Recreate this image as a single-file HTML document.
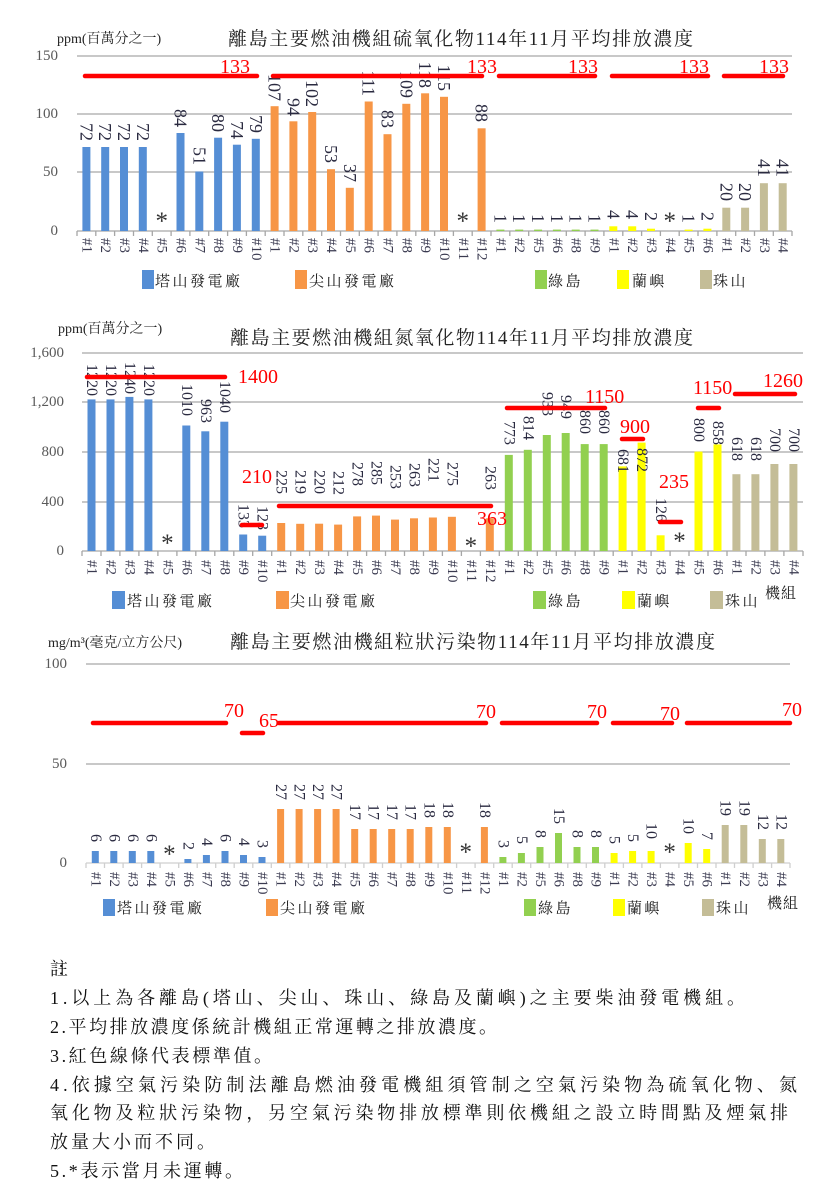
<!DOCTYPE html>
<html><head><meta charset="utf-8">
<style>
body{margin:0;background:#fff;}
svg{display:block;}
text{font-family:"Liberation Serif","Noto Serif CJK SC","Noto Sans CJK TC",serif;}
.v{font-size:18px;fill:#2a2a40;text-anchor:end;dominant-baseline:central;}
.v2{font-size:16px;fill:#2a2a40;text-anchor:end;dominant-baseline:central;}
.v3{font-size:16px;fill:#2a2a40;text-anchor:end;dominant-baseline:central;}
.t{font-size:15px;fill:#3a3a50;dominant-baseline:central;}
.y{font-size:15px;fill:#595959;text-anchor:end;dominant-baseline:central;}
.r{font-size:20px;fill:#ff0000;}
.a{font-size:25px;fill:#333;text-anchor:middle;}
.lg{font-size:15px;fill:#222;letter-spacing:2.5px;}
.ttl{font-size:19px;fill:#222;}
.u{font-size:14px;fill:#222;}
.n{font-size:18px;fill:#111;}
.g{stroke:#a6a6a6;stroke-width:1.3;}
.rl{stroke:#ff0000;stroke-width:4.5;stroke-linecap:round;}
.B{fill:#558ed5}.O{fill:#f79646}.G{fill:#92d050}.Y{fill:#ffff00}.T{fill:#c4bd97}
</style></head><body>
<svg width="823" height="1204" viewBox="0 0 823 1204" xmlns="http://www.w3.org/2000/svg">
<rect width="823" height="1204" fill="#fff"/>

<!-- ================= CHART 1 ================= -->
<text class="u" x="57" y="43">ppm(百萬分之一)</text>
<text class="ttl" x="228" y="45" textLength="465" lengthAdjust="spacing">離島主要燃油機組硫氧化物114年11月平均排放濃度</text>
<line class="g" x1="77" y1="56" x2="792" y2="56"/>
<line class="g" x1="77" y1="114" x2="792" y2="114"/>
<line class="g" x1="77" y1="172" x2="792" y2="172"/>
<line class="g" x1="77" y1="231" x2="792" y2="231"/>
<path class="g" fill="none" d="M77.0 231v5M95.8 231v5M114.6 231v5M133.5 231v5M152.3 231v5M171.1 231v5M189.9 231v5M208.7 231v5M227.6 231v5M246.4 231v5M265.2 231v5M284.0 231v5M302.8 231v5M321.7 231v5M340.5 231v5M359.3 231v5M378.1 231v5M396.9 231v5M415.8 231v5M434.6 231v5M453.4 231v5M472.2 231v5M491.0 231v5M509.8 231v5M528.7 231v5M547.5 231v5M566.3 231v5M585.1 231v5M603.9 231v5M622.8 231v5M641.6 231v5M660.4 231v5M679.2 231v5M698.0 231v5M716.9 231v5M735.7 231v5M754.5 231v5M773.3 231v5M792 231v5"/>
<text class="y" x="58" y="56">150</text>
<text class="y" x="58" y="114">100</text>
<text class="y" x="58" y="172">50</text>
<text class="y" x="58" y="231">0</text>

<rect class="B" x="82.4" y="147" width="8" height="84"/>
<rect class="B" x="101.2" y="147" width="8" height="84"/>
<rect class="B" x="120" y="147" width="8" height="84"/>
<rect class="B" x="138.8" y="147" width="8" height="84"/>
<rect class="B" x="176.5" y="133" width="8" height="98"/>
<rect class="B" x="195.3" y="171.5" width="8" height="59.5"/>
<rect class="B" x="214.1" y="137.7" width="8" height="93.3"/>
<rect class="B" x="232.9" y="144.7" width="8" height="86.3"/>
<rect class="B" x="251.8" y="138.8" width="8" height="92.2"/>
<rect class="O" x="270.6" y="106.2" width="8" height="124.8"/>
<rect class="O" x="289.4" y="121.3" width="8" height="109.7"/>
<rect class="O" x="308.2" y="112" width="8" height="119"/>
<rect class="O" x="327" y="169.2" width="8" height="61.8"/>
<rect class="O" x="345.8" y="187.8" width="8" height="43.2"/>
<rect class="O" x="364.7" y="101.5" width="8" height="129.5"/>
<rect class="O" x="383.5" y="134.2" width="8" height="96.8"/>
<rect class="O" x="402.3" y="103.8" width="8" height="127.2"/>
<rect class="O" x="421.1" y="93.3" width="8" height="137.7"/>
<rect class="O" x="440" y="96.8" width="8" height="134.2"/>
<rect class="O" x="477.6" y="128.3" width="8" height="102.7"/>
<rect class="G" x="496.4" y="229.6" width="8" height="1.4"/>
<rect class="G" x="515.2" y="229.6" width="8" height="1.4"/>
<rect class="G" x="534.1" y="229.6" width="8" height="1.4"/>
<rect class="G" x="552.9" y="229.6" width="8" height="1.4"/>
<rect class="G" x="571.7" y="229.6" width="8" height="1.4"/>
<rect class="G" x="590.5" y="229.6" width="8" height="1.4"/>
<rect class="Y" x="609.3" y="226.3" width="8" height="4.7"/>
<rect class="Y" x="628.2" y="226.3" width="8" height="4.7"/>
<rect class="Y" x="647" y="228.7" width="8" height="2.3"/>
<rect class="Y" x="684.6" y="229.6" width="8" height="1.4"/>
<rect class="Y" x="703.4" y="228.7" width="8" height="2.3"/>
<rect class="T" x="722.3" y="207.7" width="8" height="23.3"/>
<rect class="T" x="741.1" y="207.7" width="8" height="23.3"/>
<rect class="T" x="759.9" y="183.2" width="8" height="47.8"/>
<rect class="T" x="778.7" y="183.2" width="8" height="47.8"/>

<text class="v" transform="translate(86.4,141) rotate(90)">72</text>
<text class="v" transform="translate(105.2,141) rotate(90)">72</text>
<text class="v" transform="translate(124,141) rotate(90)">72</text>
<text class="v" transform="translate(142.8,141) rotate(90)">72</text>
<text class="v" transform="translate(180.5,127) rotate(90)">84</text>
<text class="v" transform="translate(199.3,165) rotate(90)">51</text>
<text class="v" transform="translate(218.1,132) rotate(90)">80</text>
<text class="v" transform="translate(236.9,139) rotate(90)">74</text>
<text class="v" transform="translate(255.8,133) rotate(90)">79</text>
<text class="v" transform="translate(274.6,101) rotate(90)">107</text>
<text class="v" transform="translate(293.4,116) rotate(90)">94</text>
<text class="v" transform="translate(312.2,107) rotate(90)">102</text>
<text class="v" transform="translate(331,163) rotate(90)">53</text>
<text class="v" transform="translate(349.8,182) rotate(90)">37</text>
<text class="v" transform="translate(368.7,96) rotate(90)">111</text>
<text class="v" transform="translate(387.5,128) rotate(90)">83</text>
<text class="v" transform="translate(406.3,98) rotate(90)">109</text>
<text class="v" transform="translate(425.1,88) rotate(90)">118</text>
<text class="v" transform="translate(444,91) rotate(90)">115</text>
<text class="v" transform="translate(481.6,122) rotate(90)">88</text>
<text class="v" transform="translate(500.4,223) rotate(90)">1</text>
<text class="v" transform="translate(519.2,223) rotate(90)">1</text>
<text class="v" transform="translate(538.1,223) rotate(90)">1</text>
<text class="v" transform="translate(556.9,223) rotate(90)">1</text>
<text class="v" transform="translate(575.7,223) rotate(90)">1</text>
<text class="v" transform="translate(594.5,223) rotate(90)">1</text>
<text class="v" transform="translate(613.3,219) rotate(90)">4</text>
<text class="v" transform="translate(632.2,219) rotate(90)">4</text>
<text class="v" transform="translate(651,221) rotate(90)">2</text>
<text class="v" transform="translate(688.6,223) rotate(90)">1</text>
<text class="v" transform="translate(707.4,221) rotate(90)">2</text>
<text class="v" transform="translate(726.3,201) rotate(90)">20</text>
<text class="v" transform="translate(745.1,201) rotate(90)">20</text>
<text class="v" transform="translate(763.9,177) rotate(90)">41</text>
<text class="v" transform="translate(782.7,177) rotate(90)">41</text>
<text class="a" x="161.7" y="229">*</text>
<text class="a" x="462.8" y="229">*</text>
<text class="a" x="669.8" y="229">*</text>

<line class="rl" x1="85" y1="76" x2="257" y2="76"/>
<line class="rl" x1="273" y1="76" x2="482" y2="76"/>
<line class="rl" x1="499" y1="76" x2="595" y2="76"/>
<line class="rl" x1="612" y1="76" x2="708" y2="76"/>
<line class="rl" x1="724" y1="76" x2="783" y2="76"/>
<text class="r" x="220" y="73">133</text>
<text class="r" x="467" y="73">133</text>
<text class="r" x="568" y="73">133</text>
<text class="r" x="679" y="73">133</text>
<text class="r" x="759" y="73">133</text>

<text class="t" transform="translate(86.4,238) rotate(90)">#1</text>
<text class="t" transform="translate(105.2,238) rotate(90)">#2</text>
<text class="t" transform="translate(124,238) rotate(90)">#3</text>
<text class="t" transform="translate(142.8,238) rotate(90)">#4</text>
<text class="t" transform="translate(161.7,238) rotate(90)">#5</text>
<text class="t" transform="translate(180.5,238) rotate(90)">#6</text>
<text class="t" transform="translate(199.3,238) rotate(90)">#7</text>
<text class="t" transform="translate(218.1,238) rotate(90)">#8</text>
<text class="t" transform="translate(236.9,238) rotate(90)">#9</text>
<text class="t" transform="translate(255.8,238) rotate(90)">#10</text>
<text class="t" transform="translate(274.6,238) rotate(90)">#1</text>
<text class="t" transform="translate(293.4,238) rotate(90)">#2</text>
<text class="t" transform="translate(312.2,238) rotate(90)">#3</text>
<text class="t" transform="translate(331,238) rotate(90)">#4</text>
<text class="t" transform="translate(349.8,238) rotate(90)">#5</text>
<text class="t" transform="translate(368.7,238) rotate(90)">#6</text>
<text class="t" transform="translate(387.5,238) rotate(90)">#7</text>
<text class="t" transform="translate(406.3,238) rotate(90)">#8</text>
<text class="t" transform="translate(425.1,238) rotate(90)">#9</text>
<text class="t" transform="translate(444,238) rotate(90)">#10</text>
<text class="t" transform="translate(462.8,238) rotate(90)">#11</text>
<text class="t" transform="translate(481.6,238) rotate(90)">#12</text>
<text class="t" transform="translate(500.4,238) rotate(90)">#1</text>
<text class="t" transform="translate(519.2,238) rotate(90)">#2</text>
<text class="t" transform="translate(538.1,238) rotate(90)">#5</text>
<text class="t" transform="translate(556.9,238) rotate(90)">#6</text>
<text class="t" transform="translate(575.7,238) rotate(90)">#8</text>
<text class="t" transform="translate(594.5,238) rotate(90)">#9</text>
<text class="t" transform="translate(613.3,238) rotate(90)">#1</text>
<text class="t" transform="translate(632.2,238) rotate(90)">#2</text>
<text class="t" transform="translate(651,238) rotate(90)">#3</text>
<text class="t" transform="translate(669.8,238) rotate(90)">#4</text>
<text class="t" transform="translate(688.6,238) rotate(90)">#5</text>
<text class="t" transform="translate(707.4,238) rotate(90)">#6</text>
<text class="t" transform="translate(726.3,238) rotate(90)">#1</text>
<text class="t" transform="translate(745.1,238) rotate(90)">#2</text>
<text class="t" transform="translate(763.9,238) rotate(90)">#3</text>
<text class="t" transform="translate(782.7,238) rotate(90)">#4</text>

<rect class="B" x="142" y="270" width="12" height="19"/><text class="lg" x="155" y="286">塔山發電廠</text>
<rect class="O" x="295" y="270" width="12" height="19"/><text class="lg" x="309" y="286">尖山發電廠</text>
<rect class="G" x="535" y="270" width="12" height="19"/><text class="lg" x="548" y="286">綠島</text>
<rect class="Y" x="617" y="270" width="12" height="19"/><text class="lg" x="632" y="286">蘭嶼</text>
<rect class="T" x="700" y="270" width="12" height="19"/><text class="lg" x="713" y="286">珠山</text>

<!-- ================= CHART 2 ================= -->
<text class="u" x="58" y="333">ppm(百萬分之一)</text>
<text class="ttl" x="230" y="344" textLength="463" lengthAdjust="spacing">離島主要燃油機組氮氧化物114年11月平均排放濃度</text>
<line class="g" x1="82" y1="353" x2="803" y2="353"/>
<line class="g" x1="82" y1="402" x2="803" y2="402"/>
<line class="g" x1="82" y1="452" x2="803" y2="452"/>
<line class="g" x1="82" y1="502" x2="803" y2="502"/>
<line class="g" x1="82" y1="551" x2="803" y2="551"/>
<path class="g" fill="none" d="M82 551v5M101.0 551v5M119.9 551v5M138.9 551v5M157.9 551v5M176.9 551v5M195.8 551v5M214.8 551v5M233.8 551v5M252.7 551v5M271.7 551v5M290.7 551v5M309.6 551v5M328.6 551v5M347.6 551v5M366.6 551v5M385.5 551v5M404.5 551v5M423.5 551v5M442.4 551v5M461.4 551v5M480.4 551v5M499.3 551v5M518.3 551v5M537.3 551v5M556.3 551v5M575.2 551v5M594.2 551v5M613.2 551v5M632.1 551v5M651.1 551v5M670.1 551v5M689.0 551v5M708.0 551v5M727.0 551v5M746.0 551v5M764.9 551v5M783.9 551v5M803 551v5"/>
<text class="y" x="64" y="353">1,600</text>
<text class="y" x="64" y="402">1,200</text>
<text class="y" x="64" y="452">800</text>
<text class="y" x="64" y="502">400</text>
<text class="y" x="64" y="551">0</text>

<rect class="B" x="87.5" y="399.4" width="8" height="151.6"/>
<rect class="B" x="106.5" y="399.4" width="8" height="151.6"/>
<rect class="B" x="125.4" y="396.9" width="8" height="154.1"/>
<rect class="B" x="144.4" y="399.4" width="8" height="151.6"/>
<rect class="B" x="182.3" y="425.5" width="8" height="125.5"/>
<rect class="B" x="201.3" y="431.3" width="8" height="119.7"/>
<rect class="B" x="220.3" y="421.7" width="8" height="129.3"/>
<rect class="B" x="239.2" y="534.5" width="8" height="16.5"/>
<rect class="B" x="258.2" y="535.7" width="8" height="15.3"/>
<rect class="O" x="277.2" y="523" width="8" height="28"/>
<rect class="O" x="296.2" y="523.8" width="8" height="27.2"/>
<rect class="O" x="315.1" y="523.7" width="8" height="27.3"/>
<rect class="O" x="334.1" y="524.6" width="8" height="26.4"/>
<rect class="O" x="353.1" y="516.4" width="8" height="34.6"/>
<rect class="O" x="372" y="515.6" width="8" height="35.4"/>
<rect class="O" x="391" y="519.6" width="8" height="31.4"/>
<rect class="O" x="410" y="518.3" width="8" height="32.7"/>
<rect class="O" x="428.9" y="517.5" width="8" height="33.5"/>
<rect class="O" x="447.9" y="516.8" width="8" height="34.2"/>
<rect class="O" x="485.8" y="518.3" width="8" height="32.7"/>
<rect class="G" x="504.8" y="454.9" width="8" height="96.1"/>
<rect class="G" x="523.8" y="449.8" width="8" height="101.2"/>
<rect class="G" x="542.8" y="435" width="8" height="116"/>
<rect class="G" x="561.7" y="433" width="8" height="118"/>
<rect class="G" x="580.7" y="444.1" width="8" height="106.9"/>
<rect class="G" x="599.7" y="444.1" width="8" height="106.9"/>
<rect class="Y" x="618.6" y="466.4" width="8" height="84.6"/>
<rect class="Y" x="637.6" y="442.6" width="8" height="108.4"/>
<rect class="Y" x="656.6" y="535.3" width="8" height="15.7"/>
<rect class="Y" x="694.5" y="451.6" width="8" height="99.4"/>
<rect class="Y" x="713.5" y="444.4" width="8" height="106.6"/>
<rect class="T" x="732.4" y="474.2" width="8" height="76.8"/>
<rect class="T" x="751.4" y="474.2" width="8" height="76.8"/>
<rect class="T" x="770.4" y="464" width="8" height="87"/>
<rect class="T" x="789.4" y="464" width="8" height="87"/>

<text class="v2" transform="translate(91.5,396) rotate(90)">1220</text>
<text class="v2" transform="translate(110.5,396) rotate(90)">1220</text>
<text class="v2" transform="translate(129.4,394) rotate(90)">1240</text>
<text class="v2" transform="translate(148.4,396) rotate(90)">1220</text>
<text class="v2" transform="translate(186.3,416) rotate(90)">1010</text>
<text class="v2" transform="translate(205.3,423) rotate(90)">963</text>
<text class="v2" transform="translate(224.3,413) rotate(90)">1040</text>
<text class="v2" transform="translate(243.2,528) rotate(90)">133</text>
<text class="v2" transform="translate(262.2,530) rotate(90)">123</text>
<text class="v2" transform="translate(281.2,494) rotate(90)">225</text>
<text class="v2" transform="translate(300.2,494) rotate(90)">219</text>
<text class="v2" transform="translate(319.1,494) rotate(90)">220</text>
<text class="v2" transform="translate(338.1,495) rotate(90)">212</text>
<text class="v2" transform="translate(357.1,486) rotate(90)">278</text>
<text class="v2" transform="translate(376,485) rotate(90)">285</text>
<text class="v2" transform="translate(395,489) rotate(90)">253</text>
<text class="v2" transform="translate(414,487) rotate(90)">263</text>
<text class="v2" transform="translate(432.9,482) rotate(90)">221</text>
<text class="v2" transform="translate(451.9,486) rotate(90)">275</text>
<text class="v2" transform="translate(489.8,490) rotate(90)">263</text>
<text class="v2" transform="translate(508.8,445) rotate(90)">773</text>
<text class="v2" transform="translate(527.8,440) rotate(90)">814</text>
<text class="v2" transform="translate(546.8,416) rotate(90)">933</text>
<text class="v2" transform="translate(565.7,419) rotate(90)">949</text>
<text class="v2" transform="translate(584.7,434) rotate(90)">860</text>
<text class="v2" transform="translate(603.7,434) rotate(90)">860</text>
<text class="v2" transform="translate(622.6,473) rotate(90)">681</text>
<text class="v2" transform="translate(641.6,472) rotate(90)">872</text>
<text class="v2" transform="translate(660.6,522) rotate(90)">126</text>
<text class="v2" transform="translate(698.5,442) rotate(90)">800</text>
<text class="v2" transform="translate(717.5,445) rotate(90)">858</text>
<text class="v2" transform="translate(736.4,461) rotate(90)">618</text>
<text class="v2" transform="translate(755.4,461) rotate(90)">618</text>
<text class="v2" transform="translate(774.4,452) rotate(90)">700</text>
<text class="v2" transform="translate(793.4,452) rotate(90)">700</text>
<text class="a" x="167.4" y="551">*</text>
<text class="a" x="470.9" y="554">*</text>
<text class="a" x="679.5" y="549">*</text>

<line class="rl" x1="87" y1="377" x2="225" y2="377"/>
<line class="rl" x1="242" y1="525" x2="262" y2="525"/>
<line class="rl" x1="279" y1="506" x2="491" y2="506"/>
<line class="rl" x1="507" y1="408" x2="605" y2="408"/>
<line class="rl" x1="622" y1="439" x2="643" y2="439"/>
<line class="rl" x1="660" y1="522" x2="681" y2="522"/>
<line class="rl" x1="698" y1="408" x2="719" y2="408"/>
<line class="rl" x1="735" y1="394" x2="795" y2="394"/>
<text class="r" x="238" y="383">1400</text>
<text class="r" x="242" y="483">210</text>
<text class="r" x="477" y="525">363</text>
<text class="r" x="585" y="403">1150</text>
<text class="r" x="620" y="433">900</text>
<text class="r" x="659" y="488">235</text>
<text class="r" x="693" y="394">1150</text>
<text class="r" x="763" y="387">1260</text>

<text class="t" transform="translate(91.5,560) rotate(90)">#1</text>
<text class="t" transform="translate(110.5,560) rotate(90)">#2</text>
<text class="t" transform="translate(129.4,560) rotate(90)">#3</text>
<text class="t" transform="translate(148.4,560) rotate(90)">#4</text>
<text class="t" transform="translate(167.4,560) rotate(90)">#5</text>
<text class="t" transform="translate(186.3,560) rotate(90)">#6</text>
<text class="t" transform="translate(205.3,560) rotate(90)">#7</text>
<text class="t" transform="translate(224.3,560) rotate(90)">#8</text>
<text class="t" transform="translate(243.2,560) rotate(90)">#9</text>
<text class="t" transform="translate(262.2,560) rotate(90)">#10</text>
<text class="t" transform="translate(281.2,560) rotate(90)">#1</text>
<text class="t" transform="translate(300.2,560) rotate(90)">#2</text>
<text class="t" transform="translate(319.1,560) rotate(90)">#3</text>
<text class="t" transform="translate(338.1,560) rotate(90)">#4</text>
<text class="t" transform="translate(357.1,560) rotate(90)">#5</text>
<text class="t" transform="translate(376,560) rotate(90)">#6</text>
<text class="t" transform="translate(395,560) rotate(90)">#7</text>
<text class="t" transform="translate(414,560) rotate(90)">#8</text>
<text class="t" transform="translate(432.9,560) rotate(90)">#9</text>
<text class="t" transform="translate(451.9,560) rotate(90)">#10</text>
<text class="t" transform="translate(470.9,560) rotate(90)">#11</text>
<text class="t" transform="translate(489.8,560) rotate(90)">#12</text>
<text class="t" transform="translate(508.8,560) rotate(90)">#1</text>
<text class="t" transform="translate(527.8,560) rotate(90)">#2</text>
<text class="t" transform="translate(546.8,560) rotate(90)">#5</text>
<text class="t" transform="translate(565.7,560) rotate(90)">#6</text>
<text class="t" transform="translate(584.7,560) rotate(90)">#8</text>
<text class="t" transform="translate(603.7,560) rotate(90)">#9</text>
<text class="t" transform="translate(622.6,560) rotate(90)">#1</text>
<text class="t" transform="translate(641.6,560) rotate(90)">#2</text>
<text class="t" transform="translate(660.6,560) rotate(90)">#3</text>
<text class="t" transform="translate(679.5,560) rotate(90)">#4</text>
<text class="t" transform="translate(698.5,560) rotate(90)">#5</text>
<text class="t" transform="translate(717.5,560) rotate(90)">#6</text>
<text class="t" transform="translate(736.4,560) rotate(90)">#1</text>
<text class="t" transform="translate(755.4,560) rotate(90)">#2</text>
<text class="t" transform="translate(774.4,560) rotate(90)">#3</text>
<text class="t" transform="translate(793.4,560) rotate(90)">#4</text>

<rect class="B" x="112" y="591" width="13" height="18"/><text class="lg" x="127" y="606">塔山發電廠</text>
<rect class="O" x="276" y="591" width="13" height="18"/><text class="lg" x="290" y="606">尖山發電廠</text>
<rect class="G" x="533" y="591" width="13" height="18"/><text class="lg" x="548" y="606">綠島</text>
<rect class="Y" x="622" y="591" width="13" height="18"/><text class="lg" x="637" y="606">蘭嶼</text>
<rect class="T" x="710" y="591" width="13" height="18"/><text class="lg" x="725" y="606">珠山</text>
<text class="lg" x="765" y="598" style="letter-spacing:1px">機組</text>

<!-- ================= CHART 3 ================= -->
<text class="u" x="48" y="647">mg/m³(毫克/立方公尺)</text>
<text class="ttl" x="230" y="648" textLength="485" lengthAdjust="spacing">離島主要燃油機組粒狀污染物114年11月平均排放濃度</text>
<line class="g" x1="86" y1="664" x2="790" y2="664"/>
<line class="g" x1="86" y1="764" x2="790" y2="764"/>
<line class="g" x1="86" y1="863" x2="790" y2="863" style="stroke:#cfcfcf"/>
<path fill="none" stroke="#cfcfcf" stroke-width="1.3" d="M86 863v5M104.5 863v5M123.1 863v5M141.6 863v5M160.1 863v5M178.7 863v5M197.2 863v5M215.7 863v5M234.2 863v5M252.8 863v5M271.3 863v5M289.8 863v5M308.4 863v5M326.9 863v5M345.4 863v5M363.9 863v5M382.5 863v5M401.0 863v5M419.5 863v5M438.1 863v5M456.6 863v5M475.1 863v5M493.7 863v5M512.2 863v5M530.7 863v5M549.2 863v5M567.8 863v5M586.3 863v5M604.8 863v5M623.4 863v5M641.9 863v5M660.4 863v5M678.9 863v5M697.5 863v5M716.0 863v5M734.5 863v5M753.1 863v5M771.6 863v5M790 863v5"/>
<text class="y" x="67" y="664">100</text>
<text class="y" x="67" y="764">50</text>
<text class="y" x="67" y="863">0</text>

<rect class="B" x="91.8" y="851" width="7" height="12"/>
<rect class="B" x="110.3" y="851" width="7" height="12"/>
<rect class="B" x="128.8" y="851" width="7" height="12"/>
<rect class="B" x="147.3" y="851" width="7" height="12"/>
<rect class="B" x="184.4" y="859" width="7" height="4"/>
<rect class="B" x="202.9" y="855" width="7" height="8"/>
<rect class="B" x="221.5" y="851" width="7" height="12"/>
<rect class="B" x="240" y="855" width="7" height="8"/>
<rect class="B" x="258.5" y="857" width="7" height="6"/>
<rect class="O" x="277.1" y="809" width="7" height="54"/>
<rect class="O" x="295.6" y="809" width="7" height="54"/>
<rect class="O" x="314.1" y="809" width="7" height="54"/>
<rect class="O" x="332.6" y="809" width="7" height="54"/>
<rect class="O" x="351.2" y="829" width="7" height="34"/>
<rect class="O" x="369.7" y="829" width="7" height="34"/>
<rect class="O" x="388.2" y="829" width="7" height="34"/>
<rect class="O" x="406.7" y="829" width="7" height="34"/>
<rect class="O" x="425.3" y="827" width="7" height="36"/>
<rect class="O" x="443.8" y="827" width="7" height="36"/>
<rect class="O" x="480.9" y="827" width="7" height="36"/>
<rect class="G" x="499.4" y="857" width="7" height="6"/>
<rect class="G" x="517.9" y="853" width="7" height="10"/>
<rect class="G" x="536.5" y="847" width="7" height="16"/>
<rect class="G" x="555" y="833" width="7" height="30"/>
<rect class="G" x="573.5" y="847" width="7" height="16"/>
<rect class="G" x="592" y="847" width="7" height="16"/>
<rect class="Y" x="610.6" y="853" width="7" height="10"/>
<rect class="Y" x="629.1" y="851" width="7" height="12"/>
<rect class="Y" x="647.6" y="851" width="7" height="12"/>
<rect class="Y" x="684.7" y="843" width="7" height="20"/>
<rect class="Y" x="703.2" y="849" width="7" height="14"/>
<rect class="T" x="721.7" y="825" width="7" height="38"/>
<rect class="T" x="740.3" y="825" width="7" height="38"/>
<rect class="T" x="758.8" y="839" width="7" height="24"/>
<rect class="T" x="777.3" y="839" width="7" height="24"/>

<text class="v3" transform="translate(95.3,842) rotate(90)">6</text>
<text class="v3" transform="translate(113.8,842) rotate(90)">6</text>
<text class="v3" transform="translate(132.3,842) rotate(90)">6</text>
<text class="v3" transform="translate(150.8,842) rotate(90)">6</text>
<text class="v3" transform="translate(187.9,850) rotate(90)">2</text>
<text class="v3" transform="translate(206.4,846) rotate(90)">4</text>
<text class="v3" transform="translate(225,842) rotate(90)">6</text>
<text class="v3" transform="translate(243.5,846) rotate(90)">4</text>
<text class="v3" transform="translate(262,848) rotate(90)">3</text>
<text class="v3" transform="translate(280.6,800) rotate(90)">27</text>
<text class="v3" transform="translate(299.1,800) rotate(90)">27</text>
<text class="v3" transform="translate(317.6,800) rotate(90)">27</text>
<text class="v3" transform="translate(336.1,800) rotate(90)">27</text>
<text class="v3" transform="translate(354.7,820) rotate(90)">17</text>
<text class="v3" transform="translate(373.2,820) rotate(90)">17</text>
<text class="v3" transform="translate(391.7,820) rotate(90)">17</text>
<text class="v3" transform="translate(410.2,820) rotate(90)">17</text>
<text class="v3" transform="translate(428.8,818) rotate(90)">18</text>
<text class="v3" transform="translate(447.3,818) rotate(90)">18</text>
<text class="v3" transform="translate(484.4,818) rotate(90)">18</text>
<text class="v3" transform="translate(502.9,848) rotate(90)">3</text>
<text class="v3" transform="translate(521.4,844) rotate(90)">5</text>
<text class="v3" transform="translate(540,838) rotate(90)">8</text>
<text class="v3" transform="translate(558.5,824) rotate(90)">15</text>
<text class="v3" transform="translate(577,838) rotate(90)">8</text>
<text class="v3" transform="translate(595.5,838) rotate(90)">8</text>
<text class="v3" transform="translate(614.1,844) rotate(90)">5</text>
<text class="v3" transform="translate(632.6,842) rotate(90)">5</text>
<text class="v3" transform="translate(651.1,839) rotate(90)">10</text>
<text class="v3" transform="translate(688.2,834) rotate(90)">10</text>
<text class="v3" transform="translate(706.7,840) rotate(90)">7</text>
<text class="v3" transform="translate(725.2,816) rotate(90)">19</text>
<text class="v3" transform="translate(743.8,816) rotate(90)">19</text>
<text class="v3" transform="translate(762.3,830) rotate(90)">12</text>
<text class="v3" transform="translate(780.8,830) rotate(90)">12</text>
<text class="a" x="169.4" y="862">*</text>
<text class="a" x="465.8" y="860">*</text>
<text class="a" x="669.6" y="860">*</text>

<line class="rl" x1="93" y1="723" x2="226" y2="723"/>
<line class="rl" x1="242" y1="733" x2="263" y2="733"/>
<line class="rl" x1="279" y1="723" x2="486" y2="723"/>
<line class="rl" x1="502" y1="723" x2="597" y2="723"/>
<line class="rl" x1="613" y1="723" x2="672" y2="723"/>
<line class="rl" x1="687" y1="723" x2="790" y2="723"/>
<text class="r" x="224" y="717">70</text>
<text class="r" x="259" y="727">65</text>
<text class="r" x="476" y="718">70</text>
<text class="r" x="587" y="718">70</text>
<text class="r" x="660" y="720">70</text>
<text class="r" x="782" y="716">70</text>

<text class="t" transform="translate(95.3,872) rotate(90)">#1</text>
<text class="t" transform="translate(113.8,872) rotate(90)">#2</text>
<text class="t" transform="translate(132.3,872) rotate(90)">#3</text>
<text class="t" transform="translate(150.8,872) rotate(90)">#4</text>
<text class="t" transform="translate(169.4,872) rotate(90)">#5</text>
<text class="t" transform="translate(187.9,872) rotate(90)">#6</text>
<text class="t" transform="translate(206.4,872) rotate(90)">#7</text>
<text class="t" transform="translate(225,872) rotate(90)">#8</text>
<text class="t" transform="translate(243.5,872) rotate(90)">#9</text>
<text class="t" transform="translate(262,872) rotate(90)">#10</text>
<text class="t" transform="translate(280.6,872) rotate(90)">#1</text>
<text class="t" transform="translate(299.1,872) rotate(90)">#2</text>
<text class="t" transform="translate(317.6,872) rotate(90)">#3</text>
<text class="t" transform="translate(336.1,872) rotate(90)">#4</text>
<text class="t" transform="translate(354.7,872) rotate(90)">#5</text>
<text class="t" transform="translate(373.2,872) rotate(90)">#6</text>
<text class="t" transform="translate(391.7,872) rotate(90)">#7</text>
<text class="t" transform="translate(410.2,872) rotate(90)">#8</text>
<text class="t" transform="translate(428.8,872) rotate(90)">#9</text>
<text class="t" transform="translate(447.3,872) rotate(90)">#10</text>
<text class="t" transform="translate(465.8,872) rotate(90)">#11</text>
<text class="t" transform="translate(484.4,872) rotate(90)">#12</text>
<text class="t" transform="translate(502.9,872) rotate(90)">#1</text>
<text class="t" transform="translate(521.4,872) rotate(90)">#2</text>
<text class="t" transform="translate(540,872) rotate(90)">#5</text>
<text class="t" transform="translate(558.5,872) rotate(90)">#6</text>
<text class="t" transform="translate(577,872) rotate(90)">#8</text>
<text class="t" transform="translate(595.5,872) rotate(90)">#9</text>
<text class="t" transform="translate(614.1,872) rotate(90)">#1</text>
<text class="t" transform="translate(632.6,872) rotate(90)">#2</text>
<text class="t" transform="translate(651.1,872) rotate(90)">#3</text>
<text class="t" transform="translate(669.6,872) rotate(90)">#4</text>
<text class="t" transform="translate(688.2,872) rotate(90)">#5</text>
<text class="t" transform="translate(706.7,872) rotate(90)">#6</text>
<text class="t" transform="translate(725.2,872) rotate(90)">#1</text>
<text class="t" transform="translate(743.8,872) rotate(90)">#2</text>
<text class="t" transform="translate(762.3,872) rotate(90)">#3</text>
<text class="t" transform="translate(780.8,872) rotate(90)">#4</text>

<rect class="B" x="103" y="899" width="12" height="17"/><text class="lg" x="117" y="913">塔山發電廠</text>
<rect class="O" x="266" y="899" width="12" height="17"/><text class="lg" x="280" y="913">尖山發電廠</text>
<rect class="G" x="524" y="899" width="12" height="17"/><text class="lg" x="538" y="913">綠島</text>
<rect class="Y" x="613" y="899" width="12" height="17"/><text class="lg" x="627" y="913">蘭嶼</text>
<rect class="T" x="702" y="899" width="12" height="17"/><text class="lg" x="716" y="913">珠山</text>
<text class="lg" x="767" y="908" style="letter-spacing:1px">機組</text>

<!-- ================= NOTES ================= -->
<text class="n" x="50" y="975" textLength="25" lengthAdjust="spacing">註：</text>
<text class="n" x="50" y="1004" textLength="695" lengthAdjust="spacing">1.以上為各離島(塔山、尖山、珠山、綠島及蘭嶼)之主要柴油發電機組。</text>
<text class="n" x="50" y="1033" textLength="447" lengthAdjust="spacing">2.平均排放濃度係統計機組正常運轉之排放濃度。</text>
<text class="n" x="50" y="1062" textLength="222" lengthAdjust="spacing">3.紅色線條代表標準值。</text>
<text class="n" x="50" y="1091" textLength="747" lengthAdjust="spacing">4.依據空氣污染防制法離島燃油發電機組須管制之空氣污染物為硫氧化物、氮</text>
<text class="n" x="50" y="1119" textLength="738" lengthAdjust="spacing">氧化物及粒狀污染物，另空氣污染物排放標準則依機組之設立時間點及煙氣排</text>
<text class="n" x="50" y="1148" textLength="165" lengthAdjust="spacing">放量大小而不同。</text>
<text class="n" x="50" y="1177" textLength="193" lengthAdjust="spacing">5.*表示當月未運轉。</text>
</svg>
</body></html>
